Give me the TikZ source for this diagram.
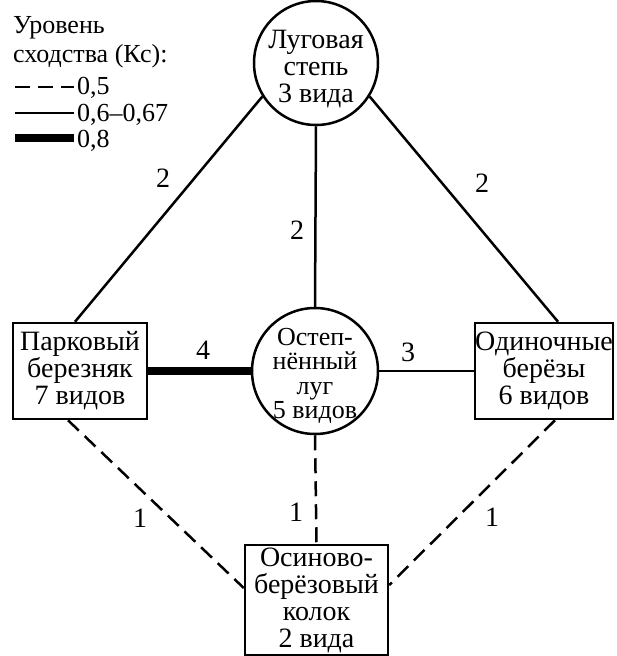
\documentclass[tikz,border=0pt]{standalone}
\usepackage{fontspec}
\setmainfont{Liberation Serif}
\begin{document}
\begin{tikzpicture}[x=1pt,y=-1pt,
  every node/.style={font=\fontsize{28}{27}\selectfont, align=center, inner sep=0pt},
  circ/.style={draw, circle, line width=2.5pt, minimum size=124pt},
  box/.style={draw, rectangle, line width=2.5pt},
  thinline/.style={line width=2.5pt},
  heavyline/.style={line width=8pt},
  dashline/.style={line width=2.5pt, dash pattern=on 15pt off 8pt},
  legtext/.style={font=\fontsize{26}{26}\selectfont, anchor=base west},
  lbl/.style={font=\fontsize{28}{27}\selectfont}
]
\useasboundingbox (0,0) rectangle (616,656);
% nodes
\node[circ] (top) at (316,63) {};
\node (toptext) at (316,69) {Луговая\\степь\\3 вида};
\node[circ, minimum size=126pt] (mid) at (315,371) {};
\node[font=\fontsize{26}{24.5}\selectfont] (midtext) at (315,376) {Остеп-\\нённый\\луг\\5 видов};
\node[box, minimum width=134pt, minimum height=96pt] (park) at (80,371) {Парковый\\березняк\\7 видов};
\node[box, minimum width=138pt, minimum height=96pt] (od) at (544,371) {Одиночные\\берёзы\\6 видов};
\node[box, minimum width=143pt, minimum height=110pt] (bot) at (316.5,600) {Осиново-\\берёзовый\\колок\\2 вида};
% connectors
\draw[thinline] (top.212) -- ([xshift=-5pt]park.north);
\draw[thinline] (top.328) -- ([xshift=14pt]od.north);
\draw[thinline] (top.south) -- (mid.north);
\draw[heavyline] (park.east) -- (mid.west);
\draw[thinline] (mid.east) -- (od.west);
\draw[dashline] ([xshift=-12pt]park.south) -- ([yshift=12pt]bot.west);
\draw[dashline] ([xshift=11pt]od.south) -- ([yshift=15pt]bot.east);
\draw[dashline] (mid.south) -- (bot.north);
% edge labels
\node[lbl] (l1) at (163,178) {2};
\node[lbl] (l2) at (482,183) {2};
\node[lbl] (l3) at (297,230) {2};
\node[lbl] (l4) at (203,350) {4};
\node[lbl] (l5) at (408,352) {3};
\node[lbl] (l6) at (140,518) {1};
\node[lbl] (l7) at (296,512) {1};
\node[lbl] (l8) at (492,517) {1};
% legend
\node[legtext] (lg1) at (13,33) {Уровень};
\node[legtext] (lg2) at (13,62) {сходства (Кс):};
\coordinate (da) at (15,87); \coordinate (db) at (74,87);
\coordinate (sa) at (15,113); \coordinate (sb) at (74,113);
\coordinate (ha) at (15,138); \coordinate (hb) at (74,138);
\draw[dashline] (da) -- (db);
\draw[thinline] (sa) -- (sb);
\draw[heavyline] (ha) -- (hb);
\node[legtext] (lg3) at (77,94) {0,5};
\node[legtext] (lg4) at (77,121) {0,6–0,67};
\node[legtext] (lg5) at (77,147) {0,8};
\end{tikzpicture}
\end{document}
